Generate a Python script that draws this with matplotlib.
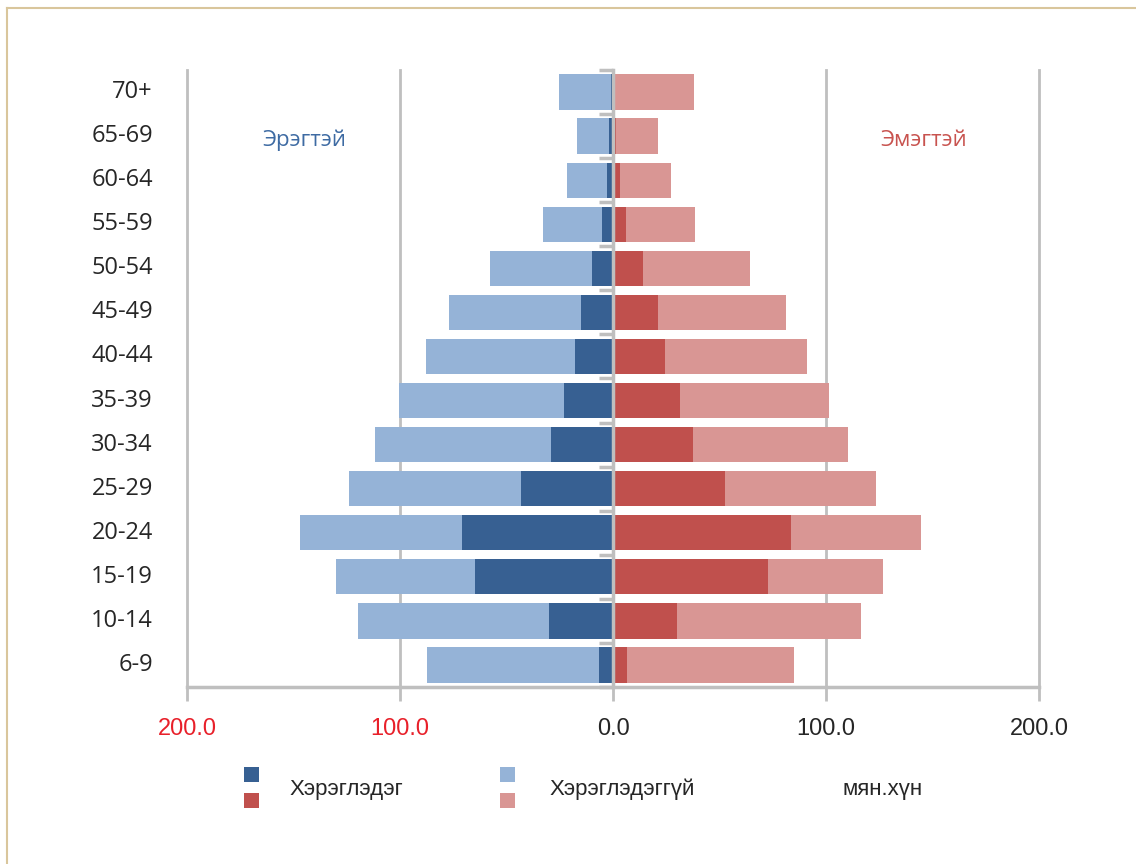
import matplotlib.pyplot as plt
from matplotlib.patches import Rectangle
from matplotlib.lines import Line2D

# age groups, bottom -> top
ages = ['6-9', '10-14', '15-19', '20-24', '25-29', '30-34', '35-39',
        '40-44', '45-49', '50-54', '55-59', '60-64', '65-69', '70+']

# мян.хүн
male_used     = [6.6, 30.0, 64.8, 70.9, 43.2, 29.1, 23.0, 17.8, 15.0, 9.9, 5.2, 3.0, 2.0, 1.0]
male_notused  = [80.7, 89.7, 65.2, 76.1, 80.8, 82.6, 77.5, 70.0, 62.0, 47.8, 27.7, 18.6, 14.9, 24.4]
female_used   = [6.6, 30.0, 72.8, 83.6, 52.6, 37.6, 31.5, 24.4, 21.1, 14.1, 6.1, 3.3, 1.5, 1.0]
female_notused = [78.4, 86.4, 54.0, 61.0, 70.9, 72.7, 69.9, 66.7, 60.1, 50.2, 32.4, 23.9, 19.6, 37.0]

xticks = [-200, -100, 0, 100, 200]

C_MU = '#376092'
C_MN = '#95B3D7'
C_FU = '#C0504D'
C_FN = '#D99694'
GRID = '#BFBFBF'
TEXT = '#262626'

narrow = ['Liberation Sans', 'DejaVu Sans']
plt.rcParams['font.family'] = ['Open Sans', 'Noto Sans', 'DejaVu Sans']

fig = plt.figure(figsize=(11.36, 8.64), dpi=100)
ax = fig.add_axes([187 / 1136, 1 - 687 / 864, 852 / 1136, 617 / 864])

y = list(range(len(ages)))
h = 0.8
ax.barh(y, [-v for v in male_used], height=h, color=C_MU, zorder=3)
ax.barh(y, [-v for v in male_notused], left=[-v for v in male_used], height=h, color=C_MN, zorder=3)
ax.barh(y, female_used, height=h, color=C_FU, zorder=3)
ax.barh(y, female_notused, left=female_used, height=h, color=C_FN, zorder=3)

ax.set_xlim(-200, 200)
ax.set_ylim(-0.5, len(ages) - 0.5)

# vertical grid
for xv in xticks:
    if xv != 0:
        ax.axvline(xv, color=GRID, lw=2, zorder=1, clip_on=False)

# spines
for s in ['top', 'right']:
    ax.spines[s].set_visible(False)
ax.spines['left'].set_position(('data', 0))
ax.spines['left'].set_color(GRID)
ax.spines['left'].set_linewidth(2.5)
ax.spines['left'].set_zorder(4)
ax.spines['bottom'].set_color(GRID)
ax.spines['bottom'].set_linewidth(2.5)

ax.set_yticks([i - 0.5 for i in range(len(ages) + 1)])
ax.set_yticklabels([])
ax.tick_params(axis='y', length=10, width=2.5, color=GRID, direction='out')

ax.set_xticks(xticks)
ax.set_xticklabels([f'{abs(v):.1f}' for v in xticks], family=narrow, fontsize=17)
ax.tick_params(axis='x', length=10, width=2, color=GRID, pad=12)
for lbl, v in zip(ax.get_xticklabels(), xticks):
    lbl.set_color('#E8202A' if v < 0 else TEXT)

# category labels
for i, a in enumerate(ages):
    ax.text(-0.04, i, a, transform=ax.get_yaxis_transform(), ha='right', va='center',
            fontsize=17, color=TEXT)

ax.text(-145, 11.9, 'Эрэгтэй', color='#3E6BA3', fontsize=16, ha='center', va='center')
ax.text(146, 11.9, 'Эмэгтэй', color='#C8534F', fontsize=16, ha='center', va='center')

# legend
sq = 15
def square(xp, yp, c):
    fig.add_artist(Rectangle((xp / 1136, 1 - (yp + sq) / 864), sq / 1136, sq / 864,
                             transform=fig.transFigure, color=c, lw=0))
square(244, 767, C_MU)
square(244, 793, C_FU)
square(500, 767, C_MN)
square(500, 793, C_FN)
fig.text(290 / 1136, 1 - 789 / 864, 'Хэрэглэдэг', family=narrow, fontsize=16, color=TEXT, va='center')
fig.text(549 / 1136, 1 - 789 / 864, 'Хэрэглэдэггүй', family=narrow, fontsize=16, color=TEXT, va='center')
fig.text(843 / 1136, 1 - 789 / 864, 'мян.хүн', family=narrow, fontsize=16, color=TEXT, va='center')

# frame (top and left edges visible)
fig.add_artist(Line2D([7 / 1136, 7 / 1136], [0, 1 - 8 / 864], transform=fig.transFigure,
                      color='#D9C69C', lw=1.5))
fig.add_artist(Line2D([7 / 1136, 1], [1 - 8 / 864, 1 - 8 / 864], transform=fig.transFigure,
                      color='#D9C69C', lw=1.5))

fig.savefig('out.png', dpi=100)
